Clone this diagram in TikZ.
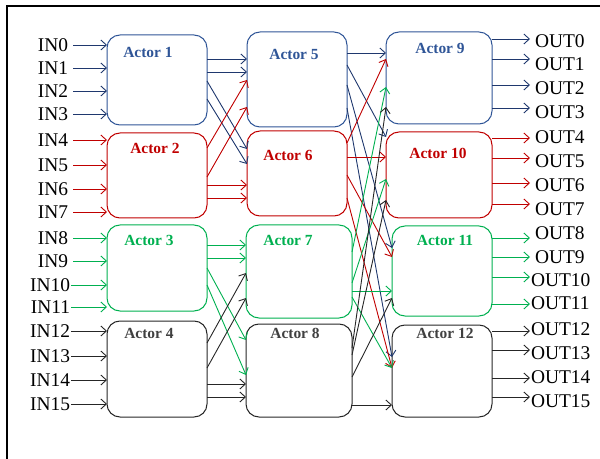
\documentclass[tikz,border=0pt]{standalone}
\usepackage{fontspec}
\setmainfont{Liberation Serif}
\usetikzlibrary{arrows.meta}
\definecolor{bluebox}{RGB}{47,85,151}
\definecolor{bluearr}{RGB}{31,56,110}
\definecolor{redc}{RGB}{192,0,0}
\definecolor{greenc}{RGB}{0,176,80}
\definecolor{blackc}{RGB}{38,38,38}
\definecolor{graytxt}{RGB}{64,64,64}
\begin{document}
\begin{tikzpicture}[x=1bp,y=-1bp,
  actor/.style={draw, rounded corners=13bp, line width=1bp, inner sep=0pt, outer sep=0pt},
  lab/.style={font=\fontsize{15.5}{15.5}\selectfont\bfseries, inner sep=0pt},
  io/.style={font=\fontsize{19.5}{19.5}\selectfont, inner sep=0pt, outer xsep=5bp, outer ysep=0pt},
  iol/.style={font=\fontsize{19.5}{19.5}\selectfont, inner sep=0pt, outer xsep=1bp, outer ysep=0pt},
  arr/.style={-{Straight Barb[length=5.5bp,width=10bp]}, line width=0.9bp},
]
\useasboundingbox (0,0) rectangle (600,459);
\draw[line width=1.2bp] (7,459) -- (7,6) -- (600,6);

% actors
\node[actor, bluebox, minimum width=100bp, minimum height=90bp] (A1) at (157,80) {};
\node[actor, redc, minimum width=100bp, minimum height=85bp] (A2) at (157,175.5) {};
\node[actor, greenc, minimum width=100bp, minimum height=86bp] (A3) at (157,268) {};
\node[actor, blackc, minimum width=100bp, minimum height=96bp] (A4) at (157,369) {};
\node[actor, bluebox, minimum width=100bp, minimum height=95bp] (A5) at (297,79.5) {};
\node[actor, redc, minimum width=100bp, minimum height=85bp] (A6) at (297,173.5) {};
\node[actor, greenc, minimum width=106bp, minimum height=93bp] (A7) at (299,271.5) {};
\node[actor, blackc, minimum width=106bp, minimum height=93bp] (A8) at (299,370.5) {};
\node[actor, bluebox, minimum width=106bp, minimum height=92bp] (A9) at (439,78) {};
\node[actor, redc, minimum width=106bp, minimum height=86bp] (A10) at (439,175) {};
\node[actor, greenc, minimum width=100bp, minimum height=90bp] (A11) at (442,271) {};
\node[actor, blackc, minimum width=100bp, minimum height=92bp] (A12) at (442,371) {};

% actor labels
\node[lab, text=bluebox] (t1) at (148,52) {Actor 1};
\node[lab, text=redc] (t2) at (155,148) {Actor 2};
\node[lab, text=greenc] (t3) at (149,240) {Actor 3};
\node[lab, text=graytxt] (t4) at (149,333) {Actor 4};
\node[lab, text=bluebox] (t5) at (294,54) {Actor 5};
\node[lab, text=redc] (t6) at (288,155) {Actor 6};
\node[lab, text=greenc] (t7) at (288,240) {Actor 7};
\node[lab, text=graytxt] (t8) at (295,333) {Actor 8};
\node[lab, text=bluebox] (t9) at (440,48) {Actor 9};
\node[lab, text=redc] (t10) at (438,153) {Actor 10};
\node[lab, text=greenc] (t11) at (445,240) {Actor 11};
\node[lab, text=graytxt] (t12) at (445,333) {Actor 12};

% input labels
\node[io, anchor=east] (in0) at (73,45) {IN0};
\node[io, anchor=east] (in1) at (73,68) {IN1};
\node[io, anchor=east] (in2) at (73,91) {IN2};
\node[io, anchor=east] (in3) at (73,114) {IN3};
\node[io, anchor=east] (in4) at (73,140) {IN4};
\node[io, anchor=east] (in5) at (73,165) {IN5};
\node[io, anchor=east] (in6) at (73,189) {IN6};
\node[io, anchor=east] (in7) at (73,212) {IN7};
\node[io, anchor=east] (in8) at (73,238) {IN8};
\node[io, anchor=east] (in9) at (73,261) {IN9};
\node[iol, anchor=east] (in10) at (71,285) {IN10};
\node[iol, anchor=east] (in11) at (71,307) {IN11};
\node[iol, anchor=east] (in12) at (71,331) {IN12};
\node[iol, anchor=east] (in13) at (71,356) {IN13};
\node[iol, anchor=east] (in14) at (71,380) {IN14};
\node[iol, anchor=east] (in15) at (71,404) {IN15};

\foreach \n in {0,1,2,3} \draw[arr, bluearr] (in\n.east) -- (A1.west |- in\n.east);
\foreach \n in {4,5,6,7} \draw[arr, redc] (in\n.east) -- (A2.west |- in\n.east);
\foreach \n in {8,9,10,11} \draw[arr, greenc] (in\n.east) -- (A3.west |- in\n.east);
\foreach \n in {12,13,14,15} \draw[arr, blackc] (in\n.east) -- (A4.west |- in\n.east);

% output labels
\node[io, anchor=west] (out0) at (530,41) {OUT0};
\node[io, anchor=west] (out1) at (530,64) {OUT1};
\node[io, anchor=west] (out2) at (530,88) {OUT2};
\node[io, anchor=west] (out3) at (530,112) {OUT3};
\node[io, anchor=west] (out4) at (530,137) {OUT4};
\node[io, anchor=west] (out5) at (530,161) {OUT5};
\node[io, anchor=west] (out6) at (530,185) {OUT6};
\node[io, anchor=west] (out7) at (530,209) {OUT7};
\node[io, anchor=west] (out8) at (530,233) {OUT8};
\node[io, anchor=west] (out9) at (530,257) {OUT9};
\node[iol, anchor=west] (out10) at (530,280) {OUT10};
\node[iol, anchor=west] (out11) at (530,303) {OUT11};
\node[iol, anchor=west] (out12) at (530,329) {OUT12};
\node[iol, anchor=west] (out13) at (530,353) {OUT13};
\node[iol, anchor=west] (out14) at (530,377) {OUT14};
\node[iol, anchor=west] (out15) at (530,401) {OUT15};

\foreach \n/\y in {0/39,1/59,2/85,3/108} \draw[arr, bluearr] (A9.east |- 0,\y) -- (out\n.west |- 0,\y);
\foreach \n/\y in {4/138,5/158,6/183,7/204} \draw[arr, redc] (A10.east |- 0,\y) -- (out\n.west |- 0,\y);
\foreach \n/\y in {8/238,9/257,10/277,11/304} \draw[arr, greenc] (A11.east |- 0,\y) -- (out\n.west |- 0,\y);
\foreach \n/\y in {12/331,13/350,14/378,15/397} \draw[arr, blackc] (A12.east |- 0,\y) -- (out\n.west |- 0,\y);

% stage 1 -> stage 2
\draw[arr, bluearr] (A1.east |- 0,59) -- (A5.west |- 0,59);
\draw[arr, bluearr] (A1.east |- 0,72) -- (A5.west |- 0,72);
\draw[arr, bluearr] (A1.east |- 0,81) -- (A6.west |- 0,149);
\draw[arr, bluearr] (A1.east |- 0,99) -- (A6.west |- 0,164);
\draw[arr, redc] (A2.east |- 0,148) -- (A5.west |- 0,80);
\draw[arr, redc] (A2.east |- 0,177) -- (A5.west |- 0,107);
\draw[arr, redc] (A2.east |- 0,185) -- (A6.west |- 0,185);
\draw[arr, redc] (A2.east |- 0,198) -- (A6.west |- 0,198);
\draw[arr, greenc] (A3.east |- 0,245) -- (A7.west |- 0,245);
\draw[arr, greenc] (A3.east |- 0,258) -- (A7.west |- 0,258);
\draw[arr, greenc] (A3.east |- 0,268) -- (A8.west |- 0,340);
\draw[arr, greenc] (A3.east |- 0,285) -- (A8.west |- 0,375);
\draw[arr, blackc] (A4.east |- 0,343) -- (A7.west |- 0,273);
\draw[arr, blackc] (A4.east |- 0,368) -- (A7.west |- 0,298);
\draw[arr, blackc] (A4.east |- 0,384) -- (A8.west |- 0,384);
\draw[arr, blackc] (A4.east |- 0,397) -- (A8.west |- 0,397);

% stage 2 -> stage 3
\draw[arr, bluearr] (A5.east |- 0,53) -- (A9.west |- 0,53);
\draw[arr, bluearr] (A5.east |- 0,65) -- (A10.west |- 0,137);
\draw[arr, bluearr] (A5.east |- 0,85) -- (A11.west |- 0,248);
\draw[arr, bluearr] (A5.east |- 0,108) -- (A12.west |- 0,357);
\draw[arr, redc] (A6.east |- 0,143) -- (A9.west |- 0,59);
\draw[arr, redc] (A6.east |- 0,157) -- (A10.west |- 0,157);
\draw[arr, redc] (A6.east |- 0,175) -- (A11.west |- 0,257);
\draw[arr, redc] (A6.east |- 0,198) -- (A12.west |- 0,368);
\draw[arr, greenc] (A7.east |- 0,252) -- (A9.west |- 0,87);
\draw[arr, greenc] (A7.east |- 0,283) -- (A10.west |- 0,179);
\draw[arr, greenc] (A7.east |- 0,291) -- (A11.west |- 0,291);
\draw[arr, greenc] (A7.east |- 0,297) -- (A12.west |- 0,368);
\draw[arr, blackc] (A8.east |- 0,348) -- (A9.west |- 0,107);
\draw[arr, blackc] (A8.east |- 0,355) -- (A10.west |- 0,200);
\draw[arr, blackc] (A8.east |- 0,377) -- (A11.west |- 0,298);
\draw[arr, blackc] (A8.east |- 0,405) -- (A12.west |- 0,405);
\end{tikzpicture}
\end{document}
